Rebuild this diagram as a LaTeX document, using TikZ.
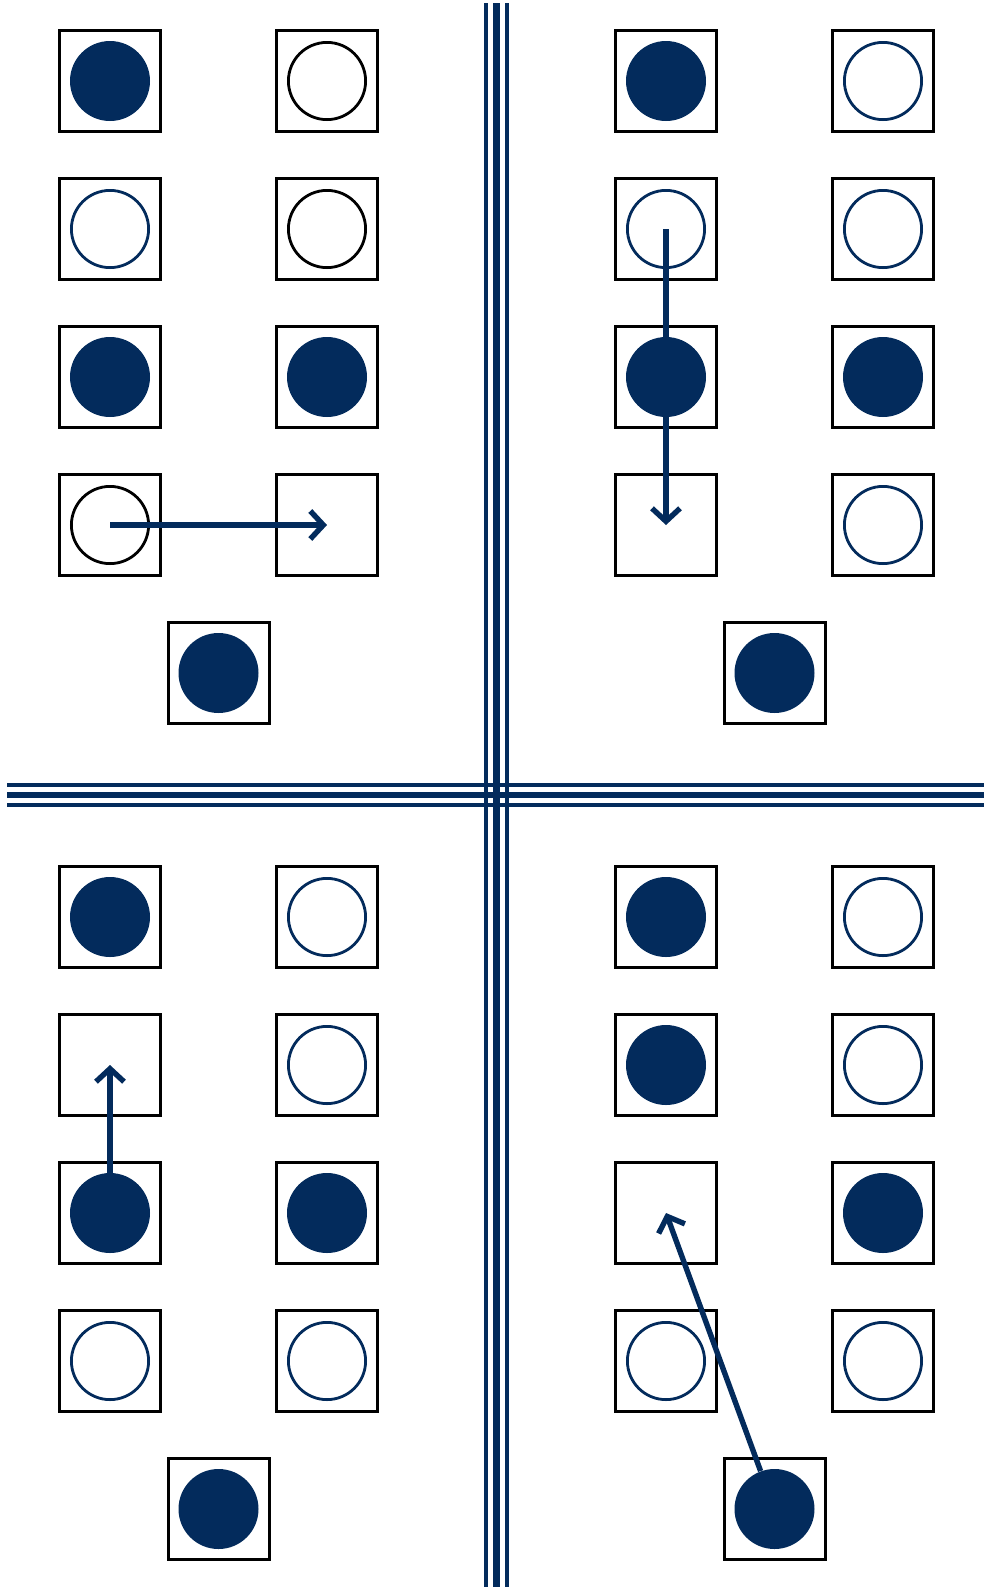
\documentclass[tikz,border=0pt]{standalone}
\usepackage{tikz}
\usetikzlibrary{arrows.meta}
\definecolor{navy}{HTML}{032B5C}
\tikzset{
  >={Straight Barb[length=6.5pt,width=14pt]},
  cell/.style={draw=black,line width=1.5pt,minimum size=50.5pt,inner sep=0pt,shape=rectangle},
  dotf/.style={circle,fill=navy,minimum size=40pt,inner sep=0pt},
  doto/.style={circle,draw=navy,line width=1.4pt,minimum size=38.6pt,inner sep=0pt},
  dotk/.style={doto,draw=black},
  nodot/.style={circle,minimum size=40pt,inner sep=0pt},
  arr/.style={->,draw=navy,line width=2.7pt},
  rail/.style={draw=navy,line width=1.75pt},
  railc/.style={draw=navy,line width=3.4pt},
}
\begin{document}
\begin{tikzpicture}[x=0.5pt,y=-0.5pt]
\useasboundingbox (0,0) rectangle (984,1591);
% triple rails
\foreach \x/\s in {486/rail,496.5/railc,507/rail}{\draw[\s] (\x,3) -- (\x,1587);}
\foreach \y/\s in {785/rail,795/railc,805/rail}{\draw[\s] (7,\y) -- (984,\y);}
% four boards, cells row by row
\foreach \px/\py/\nm/\cells in {0/0/tl/{dotf,dotk,doto,dotk,dotf,dotf,dotk,nodot},
  556/0/tr/{dotf,doto,doto,doto,dotf,dotf,nodot,doto},
  0/836/bl/{dotf,doto,nodot,doto,dotf,dotf,doto,doto},
  556/836/br/{dotf,doto,dotf,doto,nodot,dotf,doto,doto}}{
  \foreach \st [count=\i from 0] in \cells{
    \pgfmathtruncatemacro\row{div(\i,2)}
    \pgfmathtruncatemacro\col{mod(\i,2)}
    \node[cell] (\nm-\row\col) at (\px+110+217*\col,\py+81+148*\row) {};
    \node[\st] (\nm-d\row\col) at (\nm-\row\col) {};
  }
  \node[cell] (\nm-b) at (\px+218.5,\py+673) {};
  \node[dotf] (\nm-db) at (\nm-b) {};
}
% moves
\draw[arr] (tl-d30.center) -- (tl-31.center);
\draw[arr] (tr-d10.center) -- (tr-30.center);
\draw[arr] (bl-d20) -- (bl-10.center);
\draw[arr] (br-db) -- (br-20.center);
\end{tikzpicture}
\end{document}
